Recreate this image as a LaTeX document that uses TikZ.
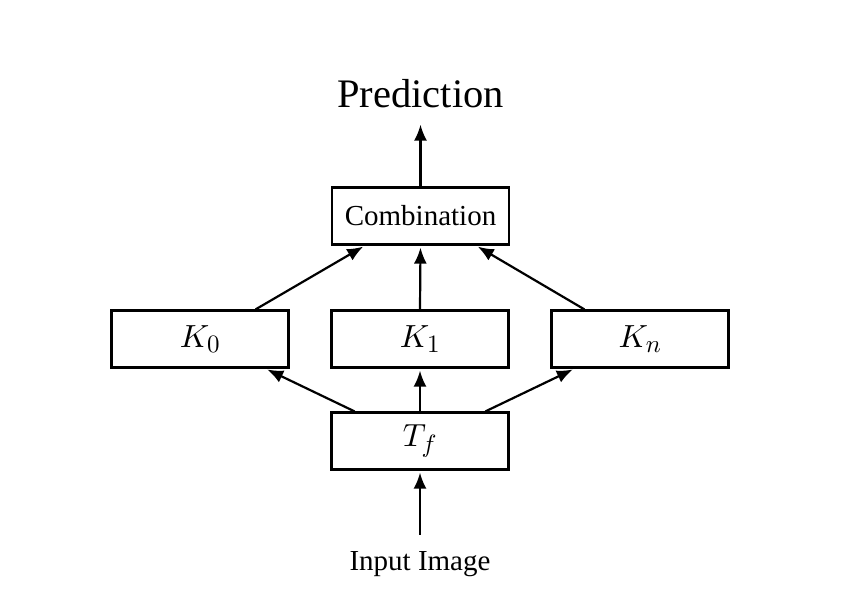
\RequirePackage{fix-cm}
\documentclass[tikz,border=0pt]{standalone}
\usepackage[no-math]{fontspec}
\setmainfont{Liberation Serif}
\DeclareFontShape{OML}{cmm}{m}{it}{<->cmmi10}{}
\DeclareFontShape{OT1}{cmr}{m}{n}{<->cmr10}{}
\DeclareMathSizes{32}{32}{25}{18}
\usetikzlibrary{arrows.meta,calc}
\begin{document}
\begin{tikzpicture}[x=1pt,y=-1pt,
  box/.style={draw,line width=2.2pt,minimum width=177pt,minimum height=57pt,inner sep=0pt,font=\fontsize{29}{34}\selectfont},
  mbox/.style={box,font=\fontsize{32}{38}\selectfont},
  lbl/.style={inner sep=0pt,font=\fontsize{29}{34}\selectfont},
  arr/.style={line width=2.2pt,-{Latex[length=16pt,width=13pt]},shorten >=2pt}]
\useasboundingbox (0,0) rectangle (843,603);
\node[lbl,font=\fontsize{40.5}{48}\selectfont,anchor=base] (pred) at (420.5,107) {Prediction};
\node[box] (comb) at (420.5,216) {Combination};
\node[mbox] (k0) at (200,339) {$K_0$};
\node[mbox] (k1) at (420,339) {$K_1$};
\node[mbox] (kn) at (640,339) {$K_n$};
\node[mbox] (tf) at (420,441) {$T_f$};
\node[lbl,anchor=base] (inp) at (420,570) {Input Image};
\draw[arr] ([yshift=16pt]inp.north) -- (tf.south);
\draw[arr] ($(tf.north west)!0.135!(tf.north east)$) -- ($(k0.south west)!0.865!(k0.south east)$);
\draw[arr] (tf.north) -- (k1.south);
\draw[arr] ($(tf.north west)!0.865!(tf.north east)$) -- ($(kn.south west)!0.135!(kn.south east)$);
\draw[arr] ($(k0.north west)!0.81!(k0.north east)$) -- ($(comb.south west)!0.19!(comb.south east)$);
\draw[arr] (k1.north) -- (comb.south);
\draw[arr] ($(kn.north west)!0.19!(kn.north east)$) -- ($(comb.south west)!0.81!(comb.south east)$);
\draw[arr,shorten >=0pt] (comb.north) -- ([yshift=-17pt]pred.south);
\end{tikzpicture}
\end{document}
